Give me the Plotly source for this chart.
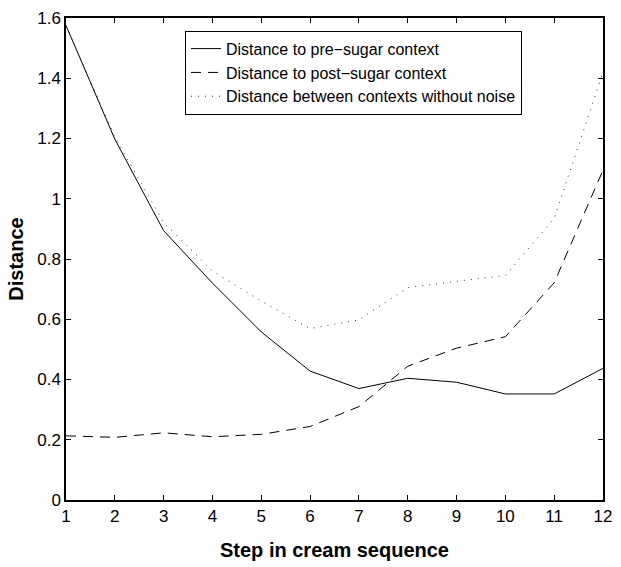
import plotly.graph_objects as go

steps = list(range(1, 13))
pre_sugar = [1.575, 1.198, 0.894, 0.72, 0.558, 0.428, 0.370, 0.404, 0.391, 0.352, 0.352, 0.437]
post_sugar = [0.213, 0.208, 0.223, 0.210, 0.218, 0.244, 0.31, 0.444, 0.504, 0.542, 0.721, 1.095]
no_noise = [1.575, 1.205, 0.921, 0.76, 0.66, 0.569, 0.598, 0.705, 0.726, 0.745, 0.935, 1.42]

names = ["Distance to pre\u2212sugar context", "Distance to post\u2212sugar context",
         "Distance between contexts without noise"]
x_ticks = list(range(1, 13))
y_ticks = [0, 0.2, 0.4, 0.6, 0.8, 1, 1.2, 1.4, 1.6]
y_ticklabels = ["0", "0.2", "0.4", "0.6", "0.8", "1", "1.2", "1.4", "1.6"]

fig = go.Figure()
fig.add_trace(go.Scatter(x=steps, y=pre_sugar, mode="lines", name=names[0],
                         line=dict(color="black", width=1, dash="solid")))
fig.add_trace(go.Scatter(x=steps, y=post_sugar, mode="lines", name=names[1],
                         line=dict(color="black", width=1, dash="10px,7px")))
fig.add_trace(go.Scatter(x=steps, y=no_noise, mode="lines", name=names[2],
                         line=dict(color="#333333", width=1, dash="1px,6px")))

font = "Liberation Sans, Arial, Helvetica, sans-serif"
fig.update_layout(
    width=621, height=567,
    margin=dict(l=66, r=9, t=13, b=62),
    paper_bgcolor="white", plot_bgcolor="white",
    font=dict(family=font, size=17, color="black"),
    showlegend=True,
    legend=dict(x=0.2216, y=0.9736, xanchor="left", yanchor="top",
                bgcolor="white", bordercolor="black", borderwidth=1,
                font=dict(size=16, family=font), tracegroupgap=0,
                itemwidth=30),
    xaxis=dict(range=[1, 12], tickmode="array", tickvals=x_ticks,
               ticks="inside", ticklen=5, tickcolor="black",
               showline=True, linecolor="black", linewidth=1.5, mirror="ticks",
               showgrid=False, zeroline=False,
               title=dict(text="<b>Step in cream sequence</b>", font=dict(size=20), standoff=18)),
    yaxis=dict(range=[0, 1.6], tickmode="array", tickvals=y_ticks, ticktext=y_ticklabels,
               ticks="inside", ticklen=5, tickcolor="black",
               showline=True, linecolor="black", linewidth=1.5, mirror="ticks",
               showgrid=False, zeroline=False,
               title=dict(text="<b>Distance</b>", font=dict(size=20), standoff=8)),
)

fig.write_html("out.html")
